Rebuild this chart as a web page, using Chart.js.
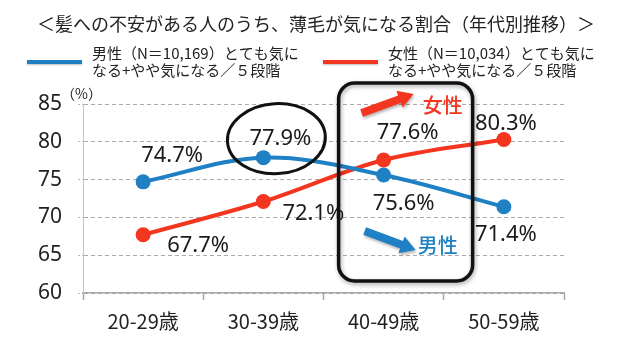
<!DOCTYPE html>
<html><head><meta charset="utf-8">
<script src="https://cdn.jsdelivr.net/npm/chart.js@4"></script>
<style>html,body{margin:0;padding:0;background:#fff}#wrap{width:620px;height:356px;position:relative}</style>
</head><body><div id="wrap"><canvas id="c" width="620" height="356"></canvas></div>
<script>
const categories = ['20-29歳', '30-39歳', '40-49歳', '50-59歳'];
const maleValues = [74.7, 77.9, 75.6, 71.4];
const femaleValues = [67.7, 72.1, 77.6, 80.3];
const yTicks = [60, 65, 70, 75, 80, 85];
const titleText = '＜髪への不安がある人のうち、薄毛が気になる割合（年代別推移）＞';
const maleLegend = ['男性（N＝10,169）とても気に', 'なる+やや気になる／５段階'];
const femaleLegend = ['女性（N＝10,034）とても気に', 'なる+やや気になる／５段階'];
const unitText = '（%）';
const maleTag = '男性';
const femaleTag = '女性';

const BLUE = '#1f80c4';
const RED = '#f2361f';
const JP = '"Noto Sans CJK JP", "Noto Sans", sans-serif';

// label offsets (style, px)
const maleLabelOffsets = [[29, -26], [17, -19], [20, 29], [2, 28]];
const femaleLabelOffsets = [[55, 11], [50, 12], [24, -27], [2, -16]];

function arrow(ctx, x1, y1, x2, y2, shaft, headLen, headW, color) {
  const a = Math.atan2(y2 - y1, x2 - x1);
  const len = Math.hypot(x2 - x1, y2 - y1);
  ctx.save();
  ctx.translate(x1, y1);
  ctx.rotate(a);
  ctx.beginPath();
  ctx.moveTo(0, -shaft / 2);
  ctx.lineTo(len - headLen, -shaft / 2);
  ctx.lineTo(len - headLen, -headW / 2);
  ctx.lineTo(len, 0);
  ctx.lineTo(len - headLen, headW / 2);
  ctx.lineTo(len - headLen, shaft / 2);
  ctx.lineTo(0, shaft / 2);
  ctx.closePath();
  ctx.shadowColor = 'rgba(0,0,0,0.3)';
  ctx.shadowBlur = 3;
  ctx.shadowOffsetX = 1;
  ctx.shadowOffsetY = 2;
  ctx.fillStyle = color;
  ctx.fill();
  ctx.restore();
}

const decorPlugin = {
  id: 'decor',
  afterDatasetsDraw(chart) {
    const ctx = chart.ctx;
    const area = chart.chartArea;
    const m = chart.getDatasetMeta(0).data;
    const f = chart.getDatasetMeta(1).data;

    // data labels
    ctx.save();
    ctx.font = '22px "Noto Sans", "DejaVu Sans", sans-serif';
    ctx.fillStyle = '#1a1a1a';
    ctx.textAlign = 'center';
    ctx.textBaseline = 'middle';
    maleValues.forEach((v, i) => {
      ctx.fillText(v.toFixed(1) + '%', m[i].x + maleLabelOffsets[i][0], m[i].y + maleLabelOffsets[i][1]);
    });
    femaleValues.forEach((v, i) => {
      ctx.fillText(v.toFixed(1) + '%', f[i].x + femaleLabelOffsets[i][0], f[i].y + femaleLabelOffsets[i][1]);
    });
    ctx.restore();

    // ellipse around the 30-39 male peak
    ctx.save();
    ctx.beginPath();
    ctx.ellipse(m[1].x + 13, m[1].y - 19, 49, 35, -0.06, 0, Math.PI * 2);
    ctx.lineWidth = 3;
    ctx.strokeStyle = '#111';
    ctx.stroke();
    ctx.restore();

    // rounded rectangle around 40-49
    const cx = m[2].x;
    const rx = cx - 45, rw = 134, ry = area.top - 21, rh = (area.bottom - 12) - ry;
    ctx.save();
    ctx.shadowColor = 'rgba(0,0,0,0.35)';
    ctx.shadowBlur = 4;
    ctx.shadowOffsetX = 1;
    ctx.shadowOffsetY = 2;
    ctx.beginPath();
    ctx.roundRect(rx, ry, rw, rh, 16);
    ctx.lineWidth = 3.5;
    ctx.strokeStyle = '#111';
    ctx.stroke();
    ctx.restore();

    // arrows + tags
    arrow(ctx, cx - 22, area.top + 9, cx + 30, area.top - 10, 8, 15, 18, RED);
    arrow(ctx, cx - 19, m[2].y + 56, cx + 32, m[2].y + 75, 8, 15, 18, BLUE);
    ctx.save();
    ctx.font = '500 20px ' + JP;
    ctx.textBaseline = 'middle';
    ctx.textAlign = 'left';
    ctx.fillStyle = RED;
    ctx.fillText(femaleTag, cx + 39, area.top + 1);
    ctx.fillStyle = BLUE;
    ctx.fillText(maleTag, cx + 34, m[2].y + 70);
    ctx.restore();
  },
  afterDraw(chart) {
    const ctx = chart.ctx;
    const area = chart.chartArea;
    ctx.save();
    ctx.fillStyle = '#222';
    ctx.textBaseline = 'middle';
    ctx.font = '18px ' + JP;
    ctx.textAlign = 'center';
    ctx.fillText(titleText, 316, 24);

    // legend
    ctx.textAlign = 'left';
    ctx.font = '15px ' + JP;
    const items = [[maleLegend, BLUE, 27], [femaleLegend, RED, 323]];
    items.forEach(([lines, col, x]) => {
      ctx.save();
      ctx.strokeStyle = col;
      ctx.lineWidth = 4;
      ctx.shadowColor = 'rgba(0,0,0,0.25)';
      ctx.shadowBlur = 2;
      ctx.shadowOffsetY = 1;
      ctx.beginPath();
      ctx.moveTo(x, 62);
      ctx.lineTo(x + 55, 62);
      ctx.stroke();
      ctx.restore();
      ctx.fillStyle = '#222';
      ctx.fillText(lines[0], x + 65, 53);
      ctx.fillText(lines[1], x + 65, 70);
    });

    ctx.font = '14px ' + JP;
    ctx.fillText(unitText, area.left - 22, area.top - 10);
    ctx.restore();
  }
};

new Chart(document.getElementById('c'), {
  type: 'line',
  data: {
    labels: categories,
    datasets: [
      { label: maleLegend.join(''), data: maleValues, borderColor: BLUE, backgroundColor: BLUE,
        pointBackgroundColor: BLUE, pointBorderColor: BLUE, borderWidth: 4, pointRadius: 7.5, pointBorderWidth: 0, tension: 0.35 },
      { label: femaleLegend.join(''), data: femaleValues, borderColor: RED, backgroundColor: RED,
        pointBackgroundColor: RED, pointBorderColor: RED, borderWidth: 4, pointRadius: 7.5, pointBorderWidth: 0, tension: 0.35 }
    ]
  },
  options: {
    responsive: false,
    animation: false,
    layout: { padding: { left: 0, top: 104, right: 56, bottom: 0 } },
    plugins: { legend: { display: false }, tooltip: { enabled: false }, title: { display: false } },
    scales: {
      x: {
        offset: true,
        grid: { offset: true, drawOnChartArea: false, drawTicks: true, tickLength: 7, tickColor: '#a8a8a8', tickWidth: 1.5, color: '#a8a8a8' },
        border: { color: '#a8a8a8', width: 1.5 },
        ticks: { font: { family: JP, size: 20 }, color: '#222', padding: 9 },
        afterFit(s) { s.height = 63; }
      },
      y: {
        min: yTicks[0], max: yTicks[yTicks.length - 1],
        afterBuildTicks(s) { s.ticks = yTicks.map(v => ({ value: v })); },
        grid: { color: '#ababab', lineWidth: 1, drawTicks: true, tickLength: 5, tickColor: '#bbb', tickBorderDash: [2, 2] },
        border: { color: '#c4c4c4', width: 1, dash: [4, 3] },
        ticks: { font: { family: '"Noto Sans", sans-serif', size: 21 }, color: '#222', padding: 16 },
        afterFit(s) { s.width = 83; }
      }
    }
  },
  plugins: [decorPlugin]
});
</script>
</body></html>
